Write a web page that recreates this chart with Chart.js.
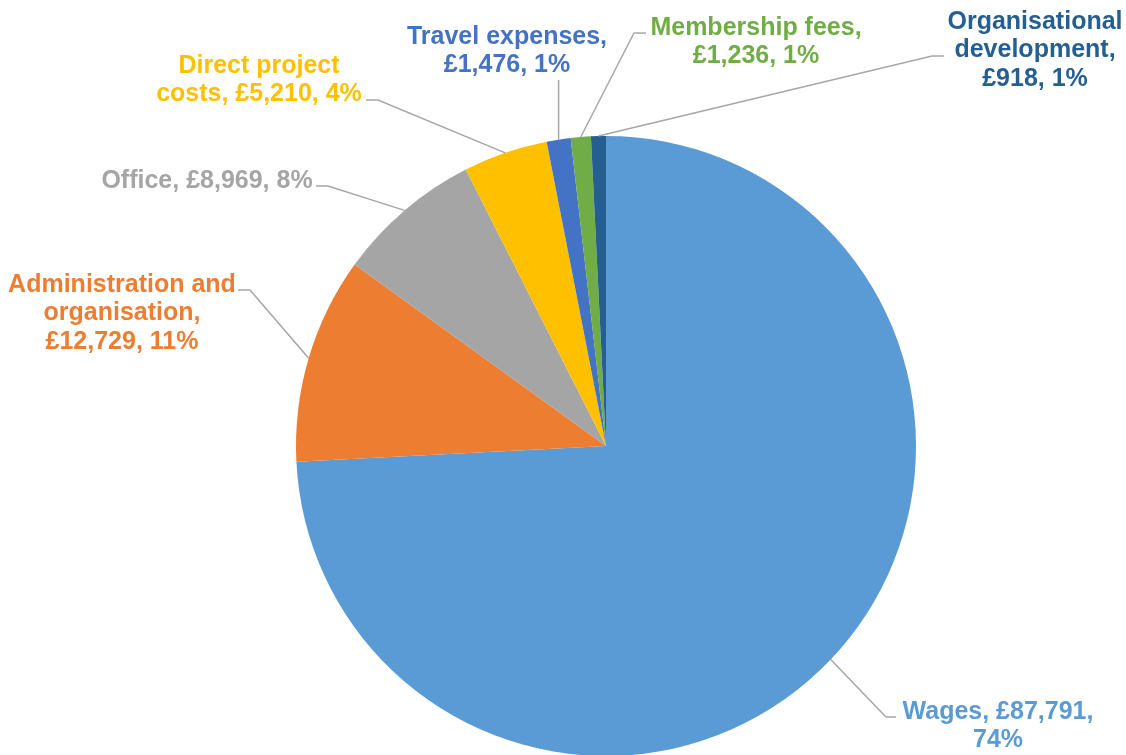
<!DOCTYPE html>
<html>
<head>
<meta charset="utf-8">
<script src="https://cdn.jsdelivr.net/npm/chart.js@4"></script>
<style>
  html, body { margin: 0; padding: 0; background: #fff; overflow: hidden; }
  canvas { display: block; }
</style>
</head>
<body>
<canvas id="pie" width="1126" height="760"></canvas>
<script>
const categories = [
    'Wages',
    'Administration and organisation',
    'Office',
    'Direct project costs',
    'Travel expenses',
    'Membership fees',
    'Organisational development'
];
const amounts = [87791, 12729, 8969, 5210, 1476, 1236, 918];
const percentLabels = ['74%', '11%', '8%', '4%', '1%', '1%', '1%'];
const amountLabels = ['£87,791', '£12,729', '£8,969', '£5,210', '£1,476', '£1,236', '£918'];

const colors = ['#5B9BD5', '#ED7D31', '#A5A5A5', '#FFC000', '#4472C4', '#70AD47', '#255E91'];

// where each data label sits, and where its leader line bends
const labelLayout = [
    { lines: ['Wages, £87,791,', '74%'], cx: 998, y: 712, anchor: [896, 717], elbow: [886, 717] },
    { lines: ['Administration and', 'organisation,', '£12,729, 11%'], cx: 122, y: 285, anchor: [238, 290], elbow: [250, 290] },
    { lines: ['Office, £8,969, 8%'], cx: 207, y: 181, anchor: [316, 186], elbow: [328, 186] },
    { lines: ['Direct project', 'costs, £5,210, 4%'], cx: 259, y: 66, anchor: [366, 100], elbow: [378, 100] },
    { lines: ['Travel expenses,', '£1,476, 1%'], cx: 507, y: 37, anchor: null, elbow: null },
    { lines: ['Membership fees,', '£1,236, 1%'], cx: 756, y: 28, anchor: [646, 33], elbow: [634, 33] },
    { lines: ['Organisational', 'development,', '£918, 1%'], cx: 1035, y: 22, anchor: [944, 56], elbow: [932, 56] }
];

const pieLabels = {
    id: 'pieLabels',
    afterDraw(chart) {
        const ctx = chart.ctx;
        const arcs = chart.getDatasetMeta(0).data;
        ctx.save();
        arcs.forEach((arc, i) => {
            const p = arc.getProps(['x', 'y', 'startAngle', 'endAngle', 'outerRadius'], true);
            const mid = (p.startAngle + p.endAngle) / 2;
            const sx = p.x + Math.cos(mid) * p.outerRadius;
            const sy = p.y + Math.sin(mid) * p.outerRadius;
            const lay = labelLayout[i];

            // leader line
            ctx.strokeStyle = '#A6A6A6';
            ctx.lineWidth = 1.5;
            ctx.beginPath();
            ctx.moveTo(sx, sy);
            if (lay.elbow) {
                ctx.lineTo(lay.elbow[0], lay.elbow[1]);
                ctx.lineTo(lay.anchor[0], lay.anchor[1]);
            } else {
                ctx.lineTo(sx, 80);
            }
            ctx.stroke();

            // text
            ctx.fillStyle = colors[i];
            ctx.font = 'bold 25px "Liberation Sans", Arial, sans-serif';
            ctx.textAlign = 'center';
            ctx.textBaseline = 'middle';
            lay.lines.forEach((t, k) => {
                ctx.fillText(t, lay.cx, lay.y + k * 28.5);
            });
        });
        ctx.restore();
    }
};

new Chart(document.getElementById('pie').getContext('2d'), {
    type: 'pie',
    data: {
        labels: categories,
        datasets: [{
            data: amounts,
            backgroundColor: colors,
            borderWidth: 0
        }]
    },
    options: {
        responsive: false,
        animation: false,
        layout: {
            padding: { top: 136, bottom: 4, left: 296, right: 210 }
        },
        plugins: {
            legend: { display: false },
            tooltip: { enabled: false }
        }
    },
    plugins: [pieLabels]
});
</script>
</body>
</html>
